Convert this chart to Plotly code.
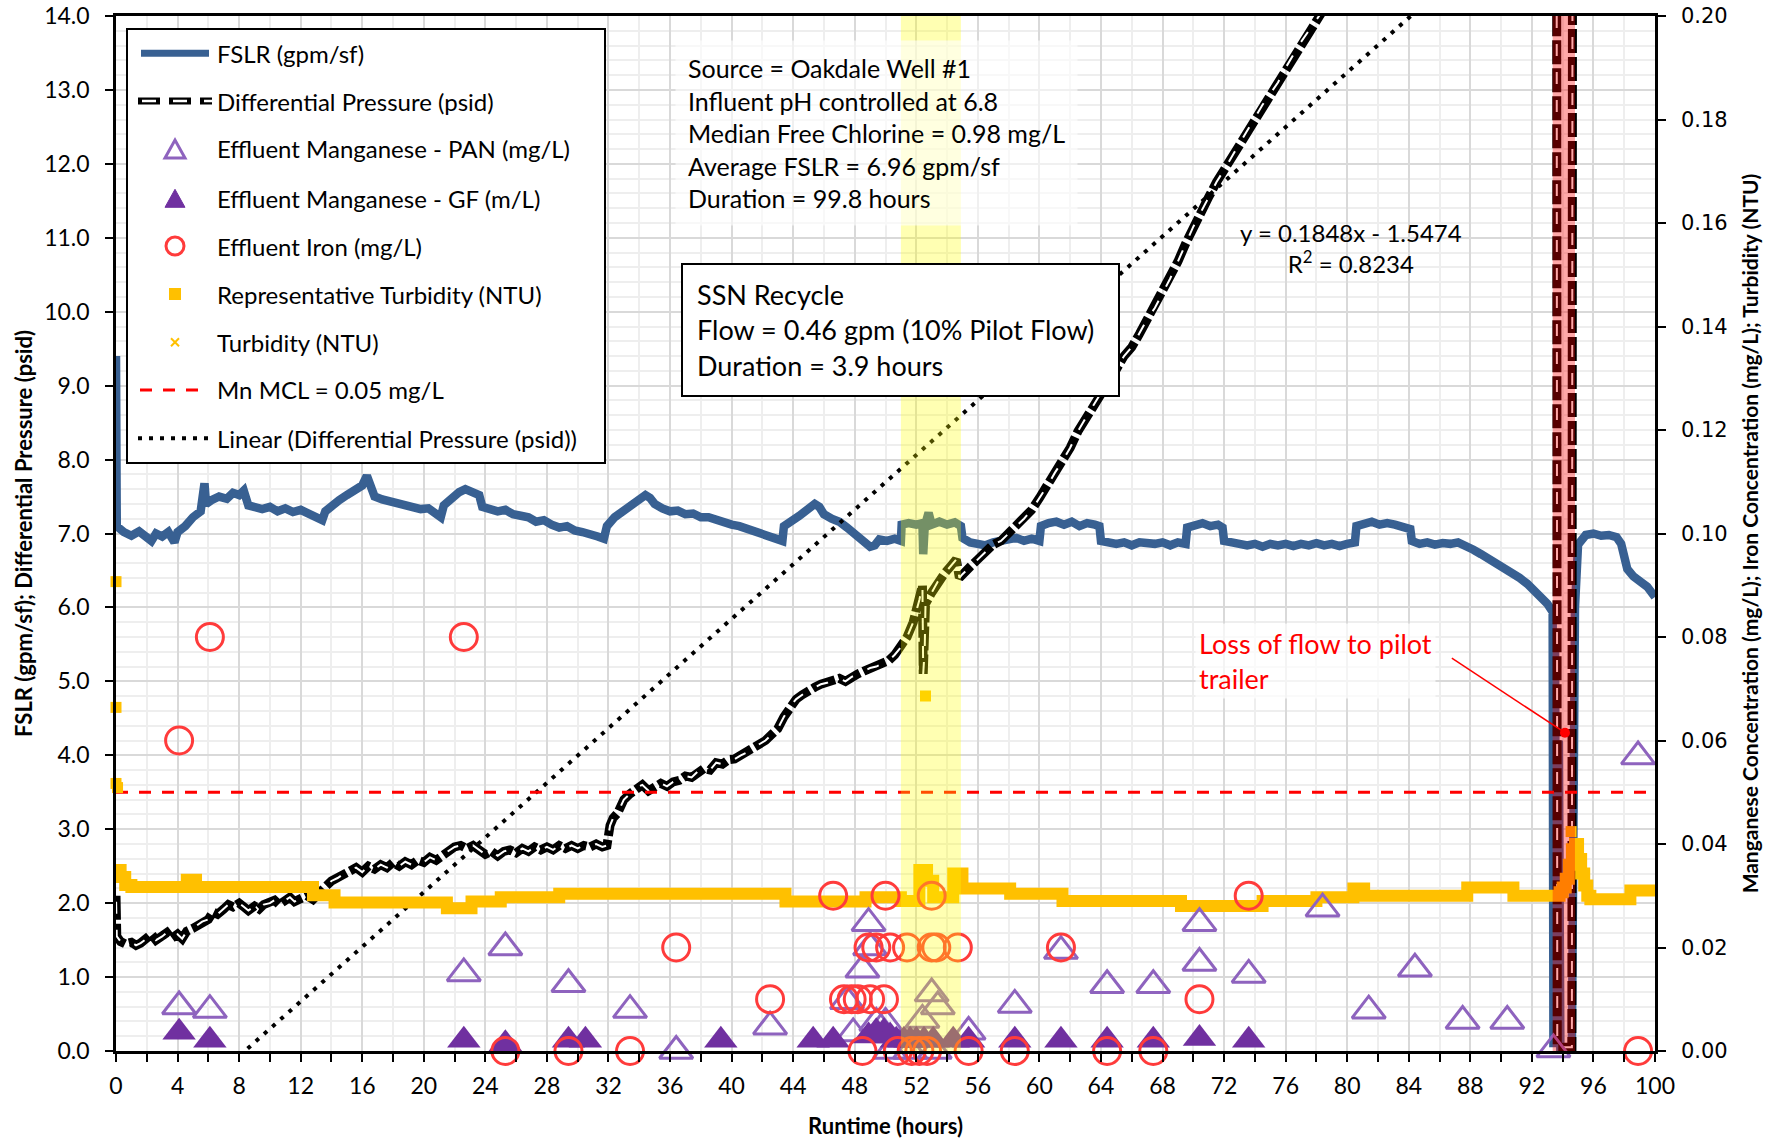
import plotly.graph_objects as go

# ---------------------------------------------------------------------------
# Pilot run data (runtime in hours)
# ---------------------------------------------------------------------------
# Filter surface loading rate, gpm/sf (left axis)
fslr_points = [
    (0.0, 9.40), (0.05, 7.10), (0.5, 7.02), (1.0, 6.97), (1.5, 7.03), (2.0, 6.95),
    (2.3, 6.90), (2.6, 7.00), (3.0, 6.96), (3.4, 7.02), (3.8, 6.88), (4.0, 7.02),
    (4.5, 7.10), (5.0, 7.22), (5.5, 7.30), (5.75, 7.68), (5.85, 7.40), (6.2, 7.45),
    (6.7, 7.50), (7.2, 7.47), (7.6, 7.55), (8.0, 7.52), (8.3, 7.58), (8.6, 7.38),
    (9.0, 7.36), (9.5, 7.33), (10.0, 7.36), (10.5, 7.30), (11.0, 7.34), (11.5, 7.29),
    (12.0, 7.32), (12.5, 7.26), (13.0, 7.22), (13.4, 7.18), (13.6, 7.30), (14.0, 7.38),
    (14.5, 7.45), (15.0, 7.52), (15.5, 7.60), (16.0, 7.65), (16.3, 7.78), (16.6, 7.62),
    (16.8, 7.50), (17.3, 7.46), (17.8, 7.43), (18.3, 7.40), (18.8, 7.38), (19.3, 7.36),
    (19.8, 7.33), (20.3, 7.34), (20.8, 7.28), (21.1, 7.22), (21.3, 7.38), (21.8, 7.48),
    (22.3, 7.56), (22.7, 7.60), (23.1, 7.55), (23.6, 7.52), (23.8, 7.36), (24.3, 7.34),
    (24.8, 7.30), (25.3, 7.32), (25.8, 7.26), (26.3, 7.24), (26.8, 7.22), (27.3, 7.16),
    (27.8, 7.18), (28.3, 7.12), (28.8, 7.08), (29.3, 7.10), (29.8, 7.04), (30.3, 7.02),
    (30.8, 7.00), (31.3, 6.96), (31.7, 6.93), (31.9, 7.10), (32.4, 7.22), (32.9, 7.30),
    (33.4, 7.38), (33.9, 7.46), (34.4, 7.52), (34.7, 7.48), (35.0, 7.40), (35.5, 7.34),
    (36.0, 7.30), (36.5, 7.31), (37.0, 7.26), (37.5, 7.27), (38.0, 7.22), (38.5, 7.22),
    (39.0, 7.18), (39.5, 7.17), (40.0, 7.12), (40.5, 7.10), (41.0, 7.06), (41.5, 7.04),
    (42.0, 7.00), (42.5, 6.97), (43.0, 6.92), (43.3, 6.90), (43.4, 7.10), (43.9, 7.16),
    (44.4, 7.24), (44.9, 7.32), (45.4, 7.40), (45.7, 7.36), (46.0, 7.26), (46.5, 7.20),
    (47.0, 7.16), (47.5, 7.08), (48.0, 7.00), (48.5, 6.92), (49.0, 6.82), (49.3, 6.84),
    (49.6, 6.92), (50.1, 6.90), (50.6, 6.93), (51.0, 6.90), (51.05, 7.12), (51.5, 7.14),
    (52.0, 7.12), (52.4, 7.14), (52.45, 6.72), (52.55, 7.10), (52.8, 7.28), (53.0, 7.12),
    (53.5, 7.16), (54.0, 7.12), (54.5, 7.15), (54.9, 7.10), (55.0, 6.94), (55.5, 6.88),
    (56.0, 6.86), (56.5, 6.84), (57.0, 6.88), (57.5, 6.90), (58.0, 6.90), (58.5, 6.94),
    (59.0, 6.90), (59.5, 6.93), (60.0, 6.90), (60.1, 7.10), (60.6, 7.14), (61.1, 7.16),
    (61.6, 7.12), (62.1, 7.16), (62.6, 7.10), (63.1, 7.14), (63.6, 7.12), (63.9, 7.10),
    (64.0, 6.90), (64.5, 6.88), (65.0, 6.86), (65.5, 6.88), (66.0, 6.84), (66.5, 6.88),
    (67.0, 6.87), (67.5, 6.86), (68.0, 6.88), (68.5, 6.84), (69.0, 6.88), (69.5, 6.86),
    (69.6, 7.08), (70.1, 7.12), (70.6, 7.14), (71.1, 7.10), (71.6, 7.12), (71.9, 7.08),
    (72.0, 6.90), (72.5, 6.88), (73.0, 6.86), (73.5, 6.84), (74.0, 6.86), (74.5, 6.82),
    (75.0, 6.86), (75.5, 6.84), (76.0, 6.86), (76.5, 6.83), (77.0, 6.86), (77.5, 6.84),
    (78.0, 6.87), (78.5, 6.84), (79.0, 6.86), (79.5, 6.83), (80.0, 6.86), (80.5, 6.88),
    (80.6, 7.10), (81.1, 7.14), (81.6, 7.16), (82.1, 7.12), (82.6, 7.14), (83.1, 7.12),
    (83.6, 7.10), (84.1, 7.06), (84.2, 6.90), (84.7, 6.86), (85.2, 6.88), (85.7, 6.85),
    (86.2, 6.87), (86.7, 6.86), (87.2, 6.88), (87.7, 6.84), (88.2, 6.78), (88.7, 6.72),
    (89.2, 6.66), (89.7, 6.60), (90.2, 6.55), (90.7, 6.48), (91.2, 6.40), (91.7, 6.32),
    (92.2, 6.22), (92.7, 6.12), (93.0, 6.05), (93.35, 5.94), (93.4, 0.05), (93.5, 5.60),
    (93.6, 0.05), (93.75, 4.20), (93.85, 0.05), (94.6, 0.05), (94.8, 6.00), (95.0, 6.85),
    (95.5, 6.98), (96.0, 7.00), (96.5, 6.97), (97.0, 6.98), (97.5, 6.95), (97.8, 6.86),
    (98.2, 6.52), (98.6, 6.42), (99.0, 6.36), (99.5, 6.28), (100.0, 6.14),
]

# Differential pressure, psid (left axis)
dp_points = [
    (0.0, 2.10), (0.05, 1.55), (0.3, 1.48), (0.6, 1.45), (1.0, 1.47), (1.3, 1.43),
    (1.6, 1.46), (2.0, 1.52), (2.3, 1.58), (2.6, 1.50), (3.0, 1.55), (3.3, 1.60),
    (3.6, 1.52), (4.0, 1.58), (4.3, 1.52), (4.6, 1.62), (5.0, 1.66), (5.3, 1.70),
    (5.6, 1.75), (6.0, 1.78), (6.3, 1.88), (6.6, 1.85), (7.0, 1.92), (7.3, 1.98),
    (7.6, 1.95), (8.0, 2.00), (8.3, 1.95), (8.6, 1.90), (9.0, 1.96), (9.3, 1.92),
    (9.6, 1.98), (10.0, 2.00), (10.3, 2.04), (10.6, 1.98), (11.0, 2.04), (11.3, 2.08),
    (11.6, 2.02), (12.0, 2.06), (12.4, 2.10), (12.8, 2.05), (13.2, 2.15), (13.6, 2.22),
    (14.0, 2.30), (14.4, 2.34), (14.8, 2.40), (15.2, 2.45), (15.6, 2.48), (16.0, 2.42),
    (16.4, 2.50), (16.8, 2.46), (17.2, 2.52), (17.6, 2.48), (18.0, 2.55), (18.4, 2.50),
    (18.8, 2.56), (19.2, 2.52), (19.6, 2.58), (20.0, 2.55), (20.4, 2.62), (20.8, 2.58),
    (21.2, 2.65), (21.6, 2.70), (22.0, 2.76), (22.4, 2.78), (22.8, 2.74), (23.2, 2.78),
    (23.6, 2.72), (24.0, 2.66), (24.4, 2.70), (24.8, 2.64), (25.2, 2.70), (25.6, 2.72),
    (26.0, 2.68), (26.4, 2.74), (26.8, 2.70), (27.2, 2.76), (27.6, 2.72), (28.0, 2.76),
    (28.4, 2.72), (28.8, 2.78), (29.2, 2.74), (29.6, 2.78), (30.0, 2.74), (30.4, 2.78),
    (30.8, 2.76), (31.2, 2.80), (31.6, 2.76), (31.9, 2.78), (32.1, 3.05), (32.3, 3.15),
    (32.6, 3.22), (33.0, 3.40), (33.4, 3.48), (33.8, 3.56), (34.2, 3.60), (34.6, 3.52),
    (35.0, 3.58), (35.4, 3.62), (35.8, 3.58), (36.2, 3.64), (36.6, 3.66), (37.0, 3.72),
    (37.4, 3.70), (37.8, 3.78), (38.2, 3.82), (38.6, 3.80), (39.0, 3.90), (39.4, 3.88),
    (39.8, 3.94), (40.2, 3.95), (40.6, 4.00), (41.0, 4.04), (41.4, 4.08), (41.8, 4.15),
    (42.2, 4.20), (42.6, 4.28), (43.0, 4.36), (43.4, 4.52), (43.8, 4.66), (44.2, 4.76),
    (44.6, 4.82), (45.0, 4.88), (45.4, 4.92), (45.8, 4.96), (46.2, 4.98), (46.6, 5.02),
    (47.0, 5.04), (47.4, 5.00), (47.8, 5.06), (48.2, 5.10), (48.6, 5.14), (49.0, 5.18),
    (49.4, 5.20), (49.8, 5.24), (50.2, 5.28), (50.6, 5.36), (51.0, 5.46), (51.4, 5.60),
    (51.8, 5.80), (52.2, 6.10), (52.4, 6.30), (52.45, 5.10), (52.55, 5.45), (52.6, 6.05),
    (53.0, 6.20), (53.4, 6.35), (53.8, 6.45), (54.2, 6.55), (54.6, 6.65), (54.8, 6.40),
    (55.0, 6.45), (55.5, 6.55), (56.0, 6.65), (56.5, 6.75), (57.0, 6.85), (57.5, 6.90),
    (58.0, 7.00), (58.5, 7.10), (59.0, 7.20), (59.5, 7.32), (60.0, 7.48), (60.5, 7.64),
    (61.0, 7.82), (61.5, 7.98), (62.0, 8.16), (62.5, 8.38), (63.0, 8.56), (63.5, 8.74),
    (64.0, 8.90), (64.5, 9.05), (65.0, 9.22), (65.5, 9.40), (66.0, 9.52), (66.5, 9.70),
    (67.0, 9.90), (67.5, 10.05), (68.0, 10.25), (68.5, 10.45), (69.0, 10.68), (69.5, 10.92),
    (70.0, 11.15), (70.5, 11.35), (71.0, 11.55), (71.5, 11.75), (72.0, 11.92), (72.5, 12.10),
    (73.0, 12.28), (73.5, 12.44), (74.0, 12.62), (74.5, 12.80), (75.0, 12.95), (75.5, 13.10),
    (76.0, 13.30), (76.5, 13.48), (77.0, 13.65), (77.5, 13.80), (78.0, 13.95), (78.5, 14.10),
    (79.0, 14.25), (80.0, 14.55), (82.0, 15.20), (84.0, 15.90), (86.0, 16.60), (88.0, 17.30),
    (90.0, 18.00), (92.0, 18.70), (93.6, 19.20), (93.65, 0.05), (94.6, 0.05), (94.65, 19.50),
    (96.0, 19.80), (98.0, 20.30), (100.0, 20.80),
]

# Turbidity, NTU (right axis), logged as step changes
turbidity_points = [
    (0.0, 0.0350), (0.3, 0.0336), (0.6, 0.0321), (1.0, 0.0317), (4.6, 0.0331), (5.2, 0.0317),
    (12.8, 0.0301), (14.2, 0.0287), (21.5, 0.0276), (23.1, 0.0289), (25.0, 0.0297), (28.8, 0.0304),
    (43.5, 0.0289), (48.7, 0.0297), (51.0, 0.0290), (52.2, 0.0350), (52.7, 0.0329), (53.1, 0.0297),
    (54.4, 0.0343), (55.0, 0.0314), (58.1, 0.0304), (61.5, 0.0290), (69.2, 0.0280), (74.5, 0.0290),
    (78.0, 0.0297), (80.4, 0.0314), (81.1, 0.0300), (87.8, 0.0316), (90.8, 0.0300), (93.4, 0.0300),
    (93.8, 0.0307), (94.0, 0.0316), (94.2, 0.0333), (94.4, 0.0360), (94.6, 0.0390), (94.8, 0.0400),
    (95.0, 0.0371), (95.2, 0.0343), (95.4, 0.0320), (95.6, 0.0300), (95.8, 0.0293), (98.4, 0.0310),
    (100.0, 0.0310),
]

# Representative turbidity grab values, NTU
rep_turbidity_points = [
    (0.0, 0.0907), (0.0, 0.0664), (0.0, 0.0517), (0.1, 0.0509), (52.6, 0.0686), (94.55, 0.0424),
]

# Effluent iron, mg/L
iron_points = [
    (4.1, 0.06), (6.1, 0.08), (22.6, 0.08), (25.3, 0.0), (29.4, 0.0), (33.4, 0.0),
    (36.4, 0.02), (42.5, 0.01), (46.6, 0.03), (47.3, 0.01), (47.8, 0.01), (48.2, 0.01),
    (48.5, 0.0), (48.9, 0.02), (49.0, 0.01), (49.4, 0.02), (49.9, 0.01), (50.0, 0.03),
    (50.3, 0.02), (50.8, 0.0), (51.4, 0.02), (51.7, 0.0), (52.2, 0.0), (52.7, 0.0),
    (53.0, 0.02), (53.0, 0.03), (53.3, 0.02), (54.7, 0.02), (55.4, 0.0), (58.4, 0.0),
    (61.4, 0.02), (64.4, 0.0), (67.4, 0.0), (70.4, 0.01), (73.6, 0.03), (98.9, 0.0),
]

# Effluent manganese by PAN method, mg/L
mn_pan_points = [
    (4.1, 0.0086), (6.1, 0.0079), (22.6, 0.0150), (25.3, 0.0200), (29.4, 0.0129), (33.4, 0.0079),
    (36.4, 0.0000), (42.5, 0.0047), (47.5, 0.0096), (47.9, 0.0034), (48.5, 0.0157), (48.9, 0.0247),
    (49.0, 0.0200), (49.4, 0.0054), (50.0, 0.0054), (50.3, 0.0000), (51.6, 0.0000), (52.4, 0.0060),
    (53.0, 0.0111), (53.2, 0.0000), (53.4, 0.0086), (55.4, 0.0037), (58.4, 0.0089), (61.4, 0.0193),
    (64.4, 0.0127), (67.4, 0.0127), (70.4, 0.0247), (70.4, 0.0170), (73.6, 0.0147), (78.4, 0.0275),
    (81.4, 0.0078), (84.4, 0.0159), (87.5, 0.0058), (90.4, 0.0058), (93.4, 0.0003), (98.9, 0.0569),
]

# Effluent manganese by graphite furnace, mg/L
mn_gf_points = [
    (4.1, 0.0036), (6.1, 0.0021), (22.6, 0.0021), (25.3, 0.0014), (29.4, 0.0021), (30.5, 0.0021),
    (39.3, 0.0021), (45.3, 0.0021), (46.6, 0.0021), (48.9, 0.0029), (49.4, 0.0037), (49.9, 0.0037),
    (50.3, 0.0029), (50.7, 0.0021), (51.2, 0.0021), (51.6, 0.0021), (52.0, 0.0021), (52.5, 0.0021),
    (53.1, 0.0021), (54.4, 0.0021), (55.4, 0.0021), (58.4, 0.0021), (61.4, 0.0021), (64.4, 0.0021),
    (67.4, 0.0021), (70.4, 0.0024), (73.6, 0.0021),
]

MN_MCL = 0.05              # mg/L
TREND_SLOPE = 0.1848       # psid per hour
TREND_INTERCEPT = -1.5474  # psid
TREND_R2 = 0.8234
SSN_START = 51.0           # h, start of SSN recycle
SSN_DURATION = 3.9         # h
SSN_FLOW = 0.46            # gpm
SSN_PCT = 10               # % of pilot flow
OUTAGE_START = 93.35       # h, loss of flow to the pilot trailer
OUTAGE_END = 94.8
LOSS_TIP = (94.15, 0.0615)     # callout tip (h, right-axis units)
LOSS_TAIL = (86.8, 0.0759)

X_RANGE = [0, 100]
Y_LEFT_RANGE = [0, 14]
Y_RIGHT_RANGE = [0, 0.20]

info_lines = [
    "Source = Oakdale Well #1",
    "Influent pH controlled at 6.8",
    "Median Free Chlorine = 0.98 mg/L",
    "Average FSLR = 6.96 gpm/sf",
    "Duration = 99.8 hours",
]

# ---------------------------------------------------------------------------
# Page geometry
# ---------------------------------------------------------------------------
W, H = 1765, 1139
ML, MR, MT, MB = 116, 110, 16, 88
PW = W - ML - MR
PH = H - MT - MB


def pxx(x):
    """Pixel column -> paper fraction."""
    return (x - ML) / PW


def pxy(y):
    """Pixel row -> paper fraction."""
    return (H - MB - y) / PH


def unzip(points):
    return [p[0] for p in points], [p[1] for p in points]


FONT = "Lato"
BLUE = "#386092"
PURPLE_OPEN = "#8E63BE"
PURPLE_FILL = "#7030A0"
IRON_RED = "#FF3B3B"
GOLD = "#FFC000"
DP_OUTER_DASH = "24px,4px"
DP_INNER_DASH = "0px,6px,12px,10px"
TREND_DASH = "4px,7px"
MCL_DASH = "12px,11px"

fig = go.Figure()

# Turbidity (drawn first so it sits under the point series)
t, v = unzip(turbidity_points)
fig.add_trace(go.Scatter(x=t, y=v, yaxis="y2", mode="lines", name="Turbidity (NTU)",
                         line=dict(color=GOLD, width=12, shape="hv"), showlegend=False))

# FSLR
t, v = unzip(fslr_points)
fig.add_trace(go.Scatter(x=t, y=v, mode="lines", name="FSLR (gpm/sf)",
                         line=dict(color=BLUE, width=8.5), showlegend=False))

# Differential pressure: outlined dashed line (black stroke with white core)
t, v = unzip(dp_points)
fig.add_trace(go.Scatter(x=t, y=v, mode="lines", name="Differential Pressure (psid)",
                         line=dict(color="black", width=9, dash=DP_OUTER_DASH), showlegend=False))
fig.add_trace(go.Scatter(x=t, y=v, mode="lines", hoverinfo="skip",
                         line=dict(color="white", width=2, dash=DP_INNER_DASH), showlegend=False))

# Linear trend of differential pressure
trend_x = list(X_RANGE)
trend_y = [TREND_SLOPE * x + TREND_INTERCEPT for x in trend_x]
fig.add_trace(go.Scatter(x=trend_x, y=trend_y, mode="lines",
                         name="Linear (Differential Pressure (psid))",
                         line=dict(color="black", width=4, dash=TREND_DASH), showlegend=False))

# Mn MCL
fig.add_trace(go.Scatter(x=list(X_RANGE), y=[MN_MCL, MN_MCL], yaxis="y2", mode="lines",
                         name=f"Mn MCL = {MN_MCL:.2f} mg/L",
                         line=dict(color="#FF0000", width=3, dash=MCL_DASH), showlegend=False))

# Representative turbidity
t, v = unzip(rep_turbidity_points)
fig.add_trace(go.Scatter(x=t, y=v, yaxis="y2", mode="markers", cliponaxis=False,
                         name="Representative Turbidity (NTU)",
                         marker=dict(symbol="square", size=11, color=GOLD), showlegend=False))

# Manganese (PAN), open triangles
t, v = unzip(mn_pan_points)
fig.add_trace(go.Scatter(x=t, y=v, yaxis="y2", mode="markers", cliponaxis=False,
                         name="Effluent Manganese - PAN (mg/L)",
                         marker=dict(symbol="triangle-up-open", size=29, color=PURPLE_OPEN,
                                     line=dict(width=3, color=PURPLE_OPEN)),
                         showlegend=False))

# Manganese (GF), filled triangles
t, v = unzip(mn_gf_points)
fig.add_trace(go.Scatter(x=t, y=v, yaxis="y2", mode="markers", cliponaxis=False,
                         name="Effluent Manganese - GF (m/L)",
                         marker=dict(symbol="triangle-up", size=29, color=PURPLE_FILL),
                         showlegend=False))

# Iron, open circles
t, v = unzip(iron_points)
fig.add_trace(go.Scatter(x=t, y=v, yaxis="y2", mode="markers", cliponaxis=False,
                         name="Effluent Iron (mg/L)",
                         marker=dict(symbol="circle-open", size=27, color=IRON_RED,
                                     line=dict(width=3, color=IRON_RED)),
                         showlegend=False))

# ---------------------------------------------------------------------------
# Shaded events (drawn above the data, semi-transparent)
# ---------------------------------------------------------------------------
shapes = [
    dict(type="rect", xref="x", yref="paper", x0=SSN_START, x1=SSN_START + SSN_DURATION,
         y0=0, y1=1, fillcolor="#FFFF00", opacity=0.3, line=dict(width=0), layer="above"),
    dict(type="rect", xref="x", yref="paper", x0=OUTAGE_START, x1=OUTAGE_END,
         y0=0, y1=1, fillcolor="#FF0000", opacity=0.34, line=dict(width=0), layer="above"),
    # callout leader for the loss of flow, ending in a dot
    dict(type="line", xref="x", yref="y2", x0=LOSS_TAIL[0], y0=LOSS_TAIL[1],
         x1=LOSS_TIP[0], y1=LOSS_TIP[1], line=dict(color="#FF0000", width=1.5), layer="above"),
    dict(type="circle", xref="x", yref="y2", xsizemode="pixel", ysizemode="pixel",
         xanchor=LOSS_TIP[0], yanchor=LOSS_TIP[1], x0=-5, x1=5, y0=-5, y1=5,
         fillcolor="#FF0000", line=dict(width=0), layer="above"),
]

# ---------------------------------------------------------------------------
# Legend panel
# ---------------------------------------------------------------------------
LEG_L, LEG_R, LEG_T, LEG_B = 127, 605, 29, 463
shapes.append(dict(type="rect", xref="paper", yref="paper",
                   x0=pxx(LEG_L), x1=pxx(LEG_R), y0=pxy(LEG_B), y1=pxy(LEG_T),
                   fillcolor="white", line=dict(color="black", width=2), layer="above"))

legend_rows = [53.3, 101.0, 149.0, 198.3, 246.0, 294.0, 342.3, 390.0, 438.3]
legend_labels = [
    "FSLR (gpm/sf)",
    "Differential Pressure (psid)",
    "Effluent Manganese - PAN (mg/L)",
    "Effluent Manganese - GF (m/L)",
    "Effluent Iron (mg/L)",
    "Representative Turbidity (NTU)",
    "Turbidity (NTU)",
    f"Mn MCL = {MN_MCL:.2f} mg/L",
    "Linear (Differential Pressure (psid))",
]
SYM_L, SYM_R, SYM_C, TXT_X = 138, 212, 175, 215


def hline(y, x0, x1, color, width, dash="solid"):
    return dict(type="line", xref="paper", yref="paper", x0=pxx(x0), x1=pxx(x1),
                y0=pxy(y), y1=pxy(y), line=dict(color=color, width=width, dash=dash),
                layer="above")


def tri(cx, cy, w, h, fill, line_color, line_width):
    pts = [(cx - w / 2, cy + h / 2), (cx + w / 2, cy + h / 2), (cx, cy - h / 2)]
    path = "M" + " L".join("%.5f,%.5f" % (pxx(a), pxy(b)) for a, b in pts) + " Z"
    return dict(type="path", xref="paper", yref="paper", path=path, fillcolor=fill,
                line=dict(color=line_color, width=line_width), layer="above")


r = legend_rows
shapes += [
    hline(r[0], SYM_L + 3, SYM_R - 3, BLUE, 7),
    hline(r[1], SYM_L, SYM_R, "black", 7, "22px,9px"),
    hline(r[1], SYM_L, SYM_R, "white", 2.5, "0px,4px,14px,13px"),
    tri(SYM_C, r[2], 20, 18, "rgba(0,0,0,0)", PURPLE_OPEN, 3),
    tri(SYM_C, r[3], 20, 18, PURPLE_FILL, PURPLE_FILL, 1),
    dict(type="circle", xref="paper", yref="paper", x0=pxx(SYM_C - 9), x1=pxx(SYM_C + 9),
         y0=pxy(r[4] + 9), y1=pxy(r[4] - 9), line=dict(color=IRON_RED, width=3), layer="above"),
    dict(type="rect", xref="paper", yref="paper", x0=pxx(SYM_C - 6), x1=pxx(SYM_C + 6),
         y0=pxy(r[5] + 6), y1=pxy(r[5] - 6), fillcolor=GOLD, line=dict(width=0), layer="above"),
    dict(type="line", xref="paper", yref="paper", x0=pxx(SYM_C - 4), x1=pxx(SYM_C + 4),
         y0=pxy(r[6] + 4), y1=pxy(r[6] - 4), line=dict(color=GOLD, width=2), layer="above"),
    dict(type="line", xref="paper", yref="paper", x0=pxx(SYM_C - 4), x1=pxx(SYM_C + 4),
         y0=pxy(r[6] - 4), y1=pxy(r[6] + 4), line=dict(color=GOLD, width=2), layer="above"),
    hline(r[7], SYM_L + 2, SYM_R - 8, "#FF0000", 3, MCL_DASH),
    hline(r[8], SYM_L, SYM_R, "black", 4, TREND_DASH),
]

annotations = []
for yrow, label in zip(legend_rows, legend_labels):
    annotations.append(dict(xref="paper", yref="paper", x=pxx(TXT_X), y=pxy(yrow),
                            xanchor="left", yanchor="middle", text=label, showarrow=False,
                            font=dict(family=FONT, size=24, color="black")))

# Run information block
annotations.append(dict(xref="paper", yref="paper", x=pxx(675), y=pxy(133),
                        xanchor="left", yanchor="middle", align="left",
                        text="<br>".join(info_lines), showarrow=False,
                        bgcolor="rgba(255,255,255,0.6)", borderpad=12,
                        font=dict(family=FONT, size=25, color="black")))

# SSN recycle box
ssn_text = (f"SSN Recycle<br>Flow = {SSN_FLOW:.2f} gpm ({SSN_PCT}% Pilot Flow)<br>"
            f"Duration = {SSN_DURATION:.1f} hours")
annotations.append(dict(xref="paper", yref="paper", x=pxx(681), y=pxy(330),
                        xanchor="left", yanchor="middle", align="left", valign="middle",
                        width=407, height=102, text=ssn_text,
                        showarrow=False, bgcolor="white", bordercolor="black",
                        borderwidth=2, borderpad=14,
                        font=dict(family=FONT, size=27, color="black")))

# Trendline equation
eq_text = (f"y = {TREND_SLOPE:.4f}x - {-TREND_INTERCEPT:.4f}<br>"
           f"R<sup>2</sup> = {TREND_R2:.4f}")
annotations.append(dict(xref="paper", yref="paper", x=pxx(1351), y=pxy(248),
                        xanchor="center", yanchor="middle", align="center",
                        text=eq_text, showarrow=False,
                        font=dict(family=FONT, size=24, color="black")))

# Loss-of-flow callout text
annotations.append(dict(xref="paper", yref="paper", x=pxx(1195), y=pxy(661),
                        xanchor="left", yanchor="middle", align="left",
                        text="Loss of flow to pilot<br>trailer", showarrow=False,
                        bgcolor="rgba(255,255,255,0.7)", borderpad=3,
                        font=dict(family=FONT, size=27, color="#FF0000")))

MAJOR_GRID = "#D9D9D9"
MINOR_GRID = "#EEEEEE"
TITLE_FONT = dict(family=FONT, size=22, color="black")

fig.update_layout(
    width=W, height=H,
    margin=dict(l=ML, r=MR, t=MT, b=MB, pad=0, autoexpand=False),
    paper_bgcolor="white", plot_bgcolor="white",
    showlegend=False,
    font=dict(family=FONT, color="black"),
    xaxis=dict(
        title=dict(text="<b>Runtime (hours)</b>", font=TITLE_FONT, standoff=21),
        range=X_RANGE, tick0=0, dtick=4, ticks="outside", ticklen=8, tickwidth=2,
        tickcolor="black", showline=True, linecolor="black", linewidth=2.5, mirror=True,
        showgrid=True, gridcolor=MAJOR_GRID, gridwidth=2, zeroline=False, automargin=False,
        ticklabelstandoff=5,
        tickfont=dict(family=FONT, size=23, color="black"),
        minor=dict(tick0=0, dtick=2, ticks="outside", ticklen=8, tickwidth=2,
                   tickcolor="black", showgrid=True, gridcolor=MINOR_GRID, gridwidth=2),
    ),
    yaxis=dict(
        title=dict(text="<b>FSLR (gpm/sf); Differential Pressure (psid)</b>",
                   font=TITLE_FONT, standoff=6),
        range=Y_LEFT_RANGE, tick0=0, dtick=1, tickformat=".1f", ticks="outside",
        ticklen=8, tickwidth=2, tickcolor="black", showline=True, linecolor="black",
        linewidth=2.5, showgrid=True, gridcolor=MAJOR_GRID, gridwidth=2, zeroline=False,
        automargin=False, ticklabelstandoff=11,
        tickfont=dict(family=FONT, size=23, color="black"),
        minor=dict(tick0=0, dtick=0.2, showgrid=True, gridcolor=MINOR_GRID, gridwidth=2),
    ),
    yaxis2=dict(
        title=dict(text="<b>Manganese Concentration (mg/L); Iron Concentration (mg/L); "
                        "Turbidity (NTU)</b>",
                   font=dict(family=FONT, size=21, color="black"), standoff=17),
        range=Y_RIGHT_RANGE, overlaying="y", side="right", tick0=0, dtick=0.02,
        tickformat=".2f", ticks="outside", ticklen=8, tickwidth=2, tickcolor="black",
        showline=True, linecolor="black", linewidth=2.5, showgrid=False, zeroline=False,
        automargin=False, ticklabelstandoff=11,
        tickfont=dict(family="DejaVu Sans", size=21, color="black"),
    ),
    shapes=shapes,
    annotations=annotations,
)

fig.write_html("out.html")
